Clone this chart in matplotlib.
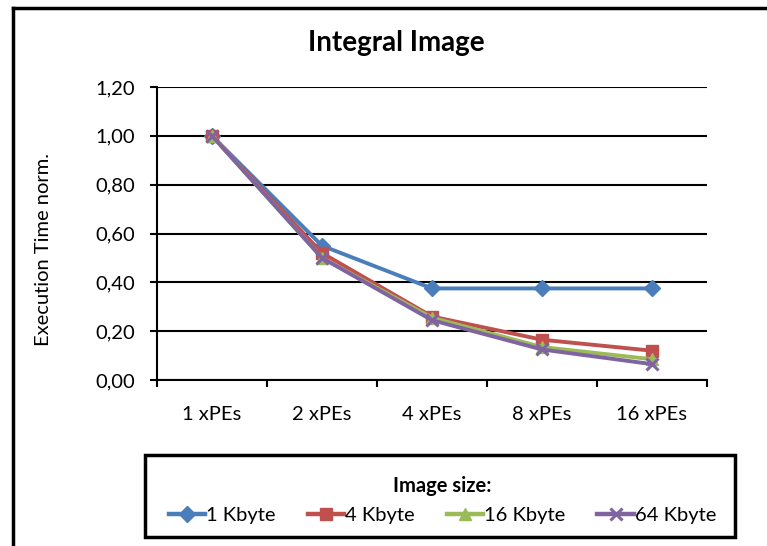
import numpy as np
import matplotlib.pyplot as plt
from matplotlib.lines import Line2D
from matplotlib.patches import Rectangle

plt.rcParams['font.family'] = ['Lato', 'DejaVu Sans']

# normalised execution time per number of PEs
categories = ["1 xPEs", "2 xPEs", "4 xPEs", "8 xPEs", "16 xPEs"]
t_1k = [1.00, 0.55, 0.375, 0.375, 0.375]
t_4k = [1.00, 0.52, 0.26, 0.165, 0.12]
t_16k = [1.00, 0.50, 0.255, 0.135, 0.085]
t_64k = [1.00, 0.50, 0.245, 0.125, 0.065]
series_labels = ["1 Kbyte", "4 Kbyte", "16 Kbyte", "64 Kbyte"]
yticks = [0.0, 0.2, 0.4, 0.6, 0.8, 1.0, 1.2]

colors = ["#4A7EBB", "#C0504D", "#9BBB59", "#8064A2"]
markers = ["D", "s", "^", "x"]
msizes = [8, 9, 9, 9]
fs = 14.5

fig = plt.figure(figsize=(7.67, 5.46), dpi=100)
ax = fig.add_axes([157 / 767, 1 - 380 / 546, 550 / 767, 293 / 546])

x = np.arange(len(categories))
for vals, lab, c, m, ms in zip([t_1k, t_4k, t_16k, t_64k], series_labels,
                               colors, markers, msizes):
    ax.plot(x, vals, color=c, lw=2.8, marker=m, ms=ms, mew=2.2 if m == "x" else 1,
            mec=c, label=lab)

ax.set_xlim(-0.5, len(categories) - 0.5)
ax.set_ylim(0, 1.2)
ax.set_yticks(yticks)
ax.set_yticklabels([f"{v:.2f}".replace(".", ",") for v in yticks], fontsize=fs)
ax.yaxis.grid(True, color="black", lw=1.5)
ax.set_axisbelow(True)

# category boundaries as ticks, labels centred in between
ax.set_xticks(np.arange(-0.5, len(categories), 1.0))
ax.set_xticklabels([])
ax.set_xticks(x, minor=True)
ax.set_xticklabels(categories, minor=True, fontsize=fs)
ax.tick_params(axis="x", which="minor", length=0, pad=19)
ax.tick_params(axis="x", which="major", length=5, width=1.5, direction="out")
ax.tick_params(axis="y", length=5, width=1.5, direction="out", pad=11)

for s in ["top", "right"]:
    ax.spines[s].set_visible(False)
for s in ["left", "bottom"]:
    ax.spines[s].set_linewidth(1.5)
    ax.spines[s].set_color("black")

ax.set_ylabel("Execution Time norm.", fontsize=fs)
ax.yaxis.set_label_coords(-0.19, 0.447)
fig.text(396 / 767, 1 - 43 / 546, "Integral Image", fontsize=20,
         fontweight="bold", ha="center", va="center")

# legend box
box_x0, box_y0, box_w, box_h = 145 / 767, 1 - 537 / 546, 590 / 767, 82 / 546
fig.add_artist(Rectangle((box_x0, box_y0), box_w, box_h, transform=fig.transFigure,
                         fill=False, ec="black", lw=2.5))
leg = fig.legend(loc="center", ncol=4, frameon=False,
                 bbox_to_anchor=(box_x0 + box_w / 2 + 0.003, box_y0 + box_h / 2 - 0.008),
                 title="Image size:", fontsize=fs, handlelength=1.8,
                 handletextpad=0.05, columnspacing=1.6, borderpad=0)
leg.get_title().set_fontweight("bold")
leg.get_title().set_fontsize(fs)
leg._legend_box.sep = 8
for h in leg.legend_handles:
    h.set_linewidth(3.2)

# outer chart border (clipped on the right and bottom)
fig.add_artist(Line2D([13 / 767, 13 / 767], [0, 1 - 8 / 546], color="black", lw=2.5))
fig.add_artist(Line2D([13 / 767, 1], [1 - 8 / 546, 1 - 8 / 546], color="black", lw=2.5))

fig.savefig("out.png", dpi=100)
